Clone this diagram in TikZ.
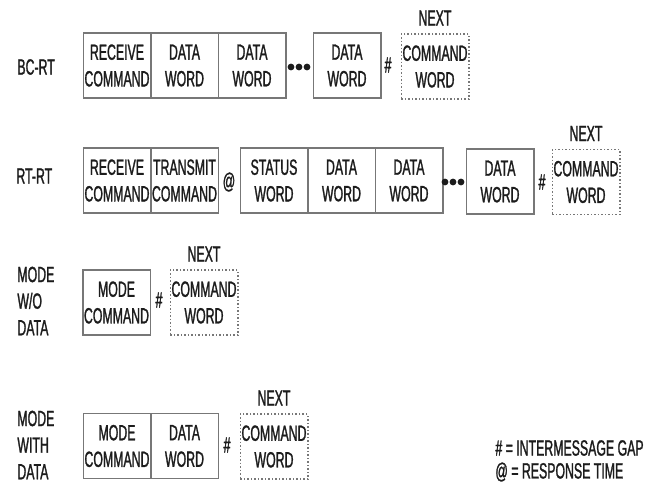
\documentclass[tikz,border=0pt]{standalone}
\usepackage{fontspec}
\setmainfont{Liberation Sans}[FakeStretch=0.56,FakeBold=1.2]
\usetikzlibrary{positioning}
\definecolor{boxgray}{HTML}{777777}
\definecolor{ink}{HTML}{1C1C1C}
\newcommand{\wordfont}{\fontsize{11}{13.3}\selectfont}
\tikzset{
  word/.style={draw=boxgray, line width=0.75pt, minimum width=33.75pt,
    minimum height=32.5pt, inner sep=0pt, outer sep=0pt, align=center,
    text=ink, font=\wordfont},
  nextword/.style={word, densely dotted},
  rowlabel/.style={anchor=west, align=left, inner sep=0pt, text=ink, font=\wordfont},
  gapsign/.style={inner sep=0pt, text=ink, font=\wordfont},
  nextlabel/.style={above=4pt of #1, inner sep=0pt, text=ink, font=\wordfont},
  dot/.style={circle, fill=ink, inner sep=0pt, minimum size=3.4pt}
}
\begin{document}
\begin{tikzpicture}[x=0.5pt,y=-0.5pt]
\useasboundingbox (0,0) rectangle (658,483);

% BC-RT
\node[rowlabel] (bclbl) at (17,67) {BC-RT};
\node[word] (bc1) at (117,65.5) {RECEIVE\\COMMAND};
\node[word, right=0pt of bc1] (bc2) {DATA\\WORD};
\node[word, right=0pt of bc2] (bc3) {DATA\\WORD};
\node[dot] (bcd1) at (291,67) {};
\node[dot] (bcd2) at (299,67) {};
\node[dot] (bcd3) at (307,67) {};
\node[word] (bc4) at (347,65.5) {DATA\\WORD};
\node[gapsign] (bcgap) at (388,65) {\#};
\node[nextword] (bcnext) at (435,66.5) {COMMAND\\WORD};
\node[nextlabel=bcnext] (bcnx) {NEXT};

% RT-RT
\node[rowlabel] (rtlbl) at (16,176) {RT-RT};
\node[word] (rt1) at (117,180.5) {RECEIVE\\COMMAND};
\node[word, right=0pt of rt1] (rt2) {TRANSMIT\\COMMAND};
\node[gapsign] (rtresp) at (229,182) {@};
\node[word] (rt3) at (274,180.5) {STATUS\\WORD};
\node[word, right=0pt of rt3] (rt4) {DATA\\WORD};
\node[word, right=0pt of rt4] (rt5) {DATA\\WORD};
\node[dot] (rtd1) at (445,182) {};
\node[dot] (rtd2) at (453,182) {};
\node[dot] (rtd3) at (461,182) {};
\node[word] (rt6) at (500,181.5) {DATA\\WORD};
\node[gapsign] (rtgap) at (542,182) {\#};
\node[nextword] (rtnext) at (586,182) {COMMAND\\WORD};
\node[nextlabel=rtnext] (rtnx) {NEXT};

% Mode without data
\node[rowlabel] (mwlbl) at (17,301) {MODE\\W/O\\DATA};
\node[word] (mw1) at (116.5,302.5) {MODE\\COMMAND};
\node[gapsign] (mwgap) at (159,300) {\#};
\node[nextword] (mwnext) at (204,302.5) {COMMAND\\WORD};
\node[nextlabel=mwnext] (mwnx) {NEXT};

% Mode with data
\node[rowlabel] (mdlbl) at (17,445) {MODE\\WITH\\DATA};
\node[word] (md1) at (117,446) {MODE\\COMMAND};
\node[word, right=0pt of md1] (md2) {DATA\\WORD};
\node[gapsign] (mdgap) at (227,445) {\#};
\node[nextword] (mdnext) at (274,446.5) {COMMAND\\WORD};
\node[nextlabel=mdnext] (mdnx) {NEXT};

% Legend
\node[rowlabel] (leggap) at (495,448) {\# = INTERMESSAGE GAP};
\node[rowlabel] (legresp) at (495,472) {@ = RESPONSE TIME};
\end{tikzpicture}
\end{document}
